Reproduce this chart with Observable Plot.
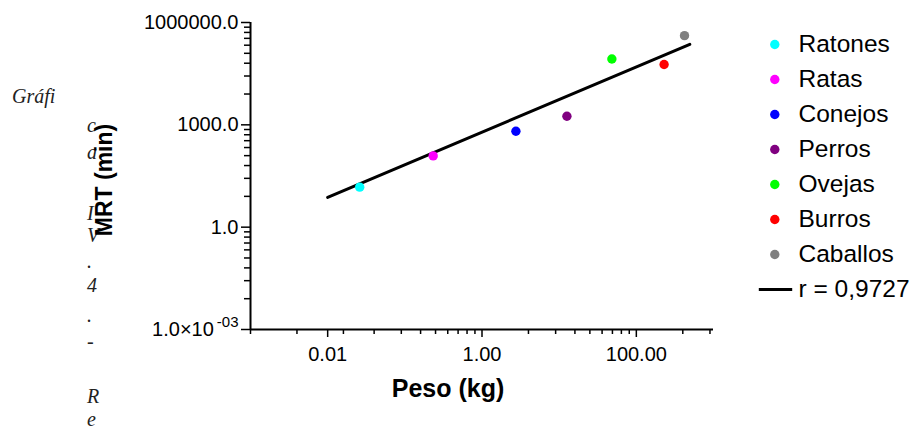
<!DOCTYPE html>
<html>
<head>
<meta charset="utf-8">
<script src="https://cdn.jsdelivr.net/npm/d3@7"></script>
<script src="https://cdn.jsdelivr.net/npm/@observablehq/plot@0.6"></script>
<style>
  body { margin: 0; background: #fff; }
  #wrap { position: relative; width: 918px; height: 432px; overflow: hidden; background: #fff; }
  #wrap > svg { position: absolute; left: 0; top: 0; overflow: visible; }
  #wrap > svg#leyenda { left: 748px; top: 20px; }
</style>
</head>
<body>
<div id="wrap"></div>
<script>
// Especies, peso corporal (kg) y tiempo medio de residencia MRT (min)
const especies = ["Ratones", "Ratas", "Conejos", "Perros", "Ovejas", "Burros", "Caballos"];
const pesoKg   = [0.026, 0.233, 2.75, 12.6, 48.2, 229, 421];
const mrtMin   = [14.9, 123, 650, 1787, 85100, 58700, 412000];
const colores  = ["#00ffff", "#ff00ff", "#0000ff", "#800080", "#00ff00", "#ff0000", "#808080"];

// Recta de ajuste alométrico (extremos) y su coeficiente
const ajustePeso = [0.01, 493];
const ajusteMrt  = [7.45, 229000];
const etiquetaR  = "r = 0,9727";

// Marcas de los ejes
const xMayores   = [0.01, 1, 100];
const xEtiquetas = ["0.01", "1.00", "100.00"];
const xMenores   = [0.001, 0.004, 0.016, 0.04, 0.09, 0.16, 0.25, 0.36, 0.49, 0.64, 0.81,
                    4, 9, 16, 25, 36, 49, 64, 81, 400, 900];
const yMayores   = [0.001, 1, 1000, 1000000];
const yEtiquetas = ["1.0×10^-03", "1.0", "1000.0", "1000000.0"];
const yMenores   = [0.008, 0.027, 0.064, 0.125, 0.216, 0.343, 0.512, 0.729,
                    8, 27, 64, 125, 216, 343, 512, 729,
                    8000, 27000, 64000, 125000, 216000, 343000, 512000, 729000];

// Pie de figura cortado en una columna estrecha
const pieInicio = "Gráfi";
const pieColumna = ["c", "a", "I", "V", ".", "4", ".", "-", "R", "e"];
const pieBase    = [132, 159, 220, 242, 268, 292, 322, 348, 403, 426];

const sans = "'Liberation Sans', Arial, Helvetica, sans-serif";
const datos = especies.map((e, i) => ({especie: e, peso: pesoKg[i], mrt: mrtMin[i]}));
const ajuste = ajustePeso.map((p, i) => ({peso: p, mrt: ajusteMrt[i]}));

const grafico = Plot.plot({
  width: 918,
  height: 432,
  marginLeft: 250,
  marginRight: 205,
  marginTop: 22,
  marginBottom: 103,
  style: {fontFamily: sans, fontSize: "20px", color: "#000", background: "transparent"},
  x: {type: "log", domain: [0.001, 1000]},
  y: {type: "log", domain: [0.001, 1000000]},
  color: {domain: especies, range: colores},
  marks: [
    Plot.axisX({ticks: xMenores, tickSize: 5, strokeWidth: 1.5, tickFormat: () => "", label: null}),
    Plot.axisX({ticks: xMayores, tickSize: 8, tickPadding: 9, strokeWidth: 1.5, fontSize: 20,
                tickFormat: d => xEtiquetas[xMayores.indexOf(d)], label: null}),
    Plot.axisY({ticks: yMenores, tickSize: 6, strokeWidth: 1.5, tickFormat: () => "", label: null}),
    Plot.axisY({ticks: yMayores, tickSize: 9, tickPadding: 3, strokeWidth: 1.5, fontSize: 20,
                tickFormat: d => yEtiquetas[yMayores.indexOf(d)], label: null}),
    Plot.ruleY([0.001], {stroke: "#000", strokeWidth: 2}),
    Plot.ruleX([0.001], {stroke: "#000", strokeWidth: 2}),
    Plot.line(ajuste, {x: "peso", y: "mrt", stroke: "#000", strokeWidth: 3}),
    Plot.dot(datos, {x: "peso", y: "mrt", fill: "especie", r: 4.7})
  ]
});

const svg = d3.select(grafico);

// Exponente en superíndice para la etiqueta 1.0×10^-03
svg.selectAll("text")
  .filter(function () { return this.textContent.includes("^"); })
  .each(function () {
    const [base, exp] = this.textContent.split("^");
    const t = d3.select(this);
    t.text(base);
    t.append("tspan").attr("dx", 3).attr("dy", "-0.6em").attr("font-size", "15px").text(exp);
  });

// Pie de figura en cursiva
const pie = svg.append("g")
  .attr("font-family", "'Liberation Serif', 'Times New Roman', serif")
  .attr("font-style", "italic")
  .attr("font-size", 20)
  .attr("text-anchor", "start")
  .attr("fill", "#222");
pie.append("text").attr("x", 12).attr("y", 103).text(pieInicio);
pie.selectAll(null).data(pieColumna).join("text")
  .attr("x", 87)
  .attr("y", (d, i) => pieBase[i])
  .text(d => d);

// Títulos de los ejes, por encima del pie
const titulos = svg.append("g")
  .attr("font-family", sans)
  .attr("font-weight", "bold")
  .attr("fill", "#000")
  .attr("text-anchor", "middle");
titulos.append("text")
  .attr("font-size", 25)
  .attr("transform", "translate(448,397)")
  .text("Peso (kg)");
titulos.append("text")
  .attr("font-size", 23)
  .attr("transform", "translate(112,180) rotate(-90)")
  .text("MRT (min)");

// Leyenda
const filas = [...especies, etiquetaR];
const leyenda = Plot.plot({
  width: 170,
  height: 300,
  margin: 0,
  style: {fontFamily: sans, background: "transparent", color: "#000"},
  x: {domain: [0, 170], range: [0, 170], axis: null},
  y: {type: "point", domain: filas, range: [21.7, 270.7], padding: 0, axis: null},
  color: {domain: especies, range: colores},
  marks: [
    Plot.dot(especies, {x: 26.3, y: d => d, fill: d => d, r: 4.7}),
    Plot.link([etiquetaR], {x1: 10.3, x2: 43.7, y1: d => d, y2: d => d, stroke: "#000", strokeWidth: 3}),
    Plot.text(filas, {x: 50, y: d => d, text: d => d, textAnchor: "start", fontSize: 24.5, fill: "#000"})
  ]
});
leyenda.id = "leyenda";

const wrap = document.getElementById("wrap");
wrap.appendChild(grafico);
wrap.appendChild(leyenda);
</script>
</body>
</html>
